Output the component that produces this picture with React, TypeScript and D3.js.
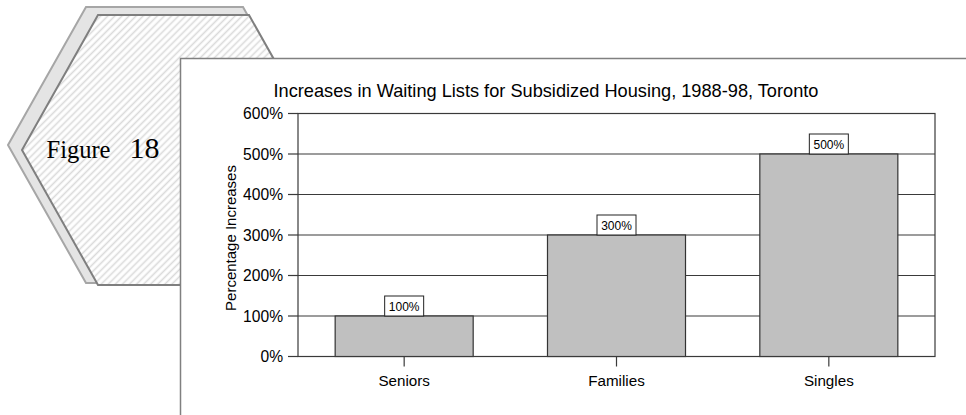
import React from "react";
import * as d3 from "d3";

const categories = ["Seniors", "Families", "Singles"];
const values = [100, 300, 500];
const yTicks = [0, 100, 200, 300, 400, 500, 600];
const title = "Increases in Waiting Lists for Subsidized Housing, 1988-98, Toronto";
const yTitle = "Percentage Increases";
const figureWord = "Figure";
const figureNum = "18";

const backHex: [number, number][] = [[86, 7], [243, 7], [321, 146], [243, 283], [86, 283], [8, 145]];
const frontHex: [number, number][] = [[98, 15], [249, 15], [325, 150], [249, 285], [98, 285], [22, 150]];

export default function App() {
  const W = 966, H = 415;
  const plotL = 298, plotR = 935, plotT = 113.5, plotB = 356.5;
  const x = d3.scaleBand<string>().domain(categories).range([plotL, plotR]).paddingInner(0.35).paddingOuter(0.175);
  const y = d3.scaleLinear().domain([0, 600]).range([plotB, plotT]);
  const line = d3.line();
  const sans = "'Liberation Sans', Arial, sans-serif";
  const serif = "'Liberation Serif', 'Times New Roman', serif";
  const fmt = (v: number) => `${v}%`;

  return (
    <svg width={W} height={H} style={{ position: "absolute", left: 0, top: 0, background: "#fff" }}>
      <defs>
        <pattern id="hatch" patternUnits="userSpaceOnUse" width={5} height={5} patternTransform="rotate(45)">
          <rect width={5} height={5} fill="#fff" />
          <line x1={2.5} y1={0} x2={2.5} y2={5} stroke="#dadada" strokeWidth={1.6} />
        </pattern>
      </defs>
      <path d={line(backHex) + "Z"} fill="#e4e4e4" stroke="#a6a6a6" strokeWidth={2} />
      <path d={line(frontHex) + "Z"} fill="url(#hatch)" stroke="#7f7f7f" strokeWidth={2} />
      <text x={46.5} y={158.3} fontFamily={serif} fontSize={24.5} fill="#000">{figureWord}</text>
      <text x={129.5} y={158.3} fontFamily={serif} fontSize={30} fill="#000">{figureNum}</text>

      <rect x={180.5} y={58.5} width={900} height={500} fill="#fff" stroke="#808080" strokeWidth={1.5} />

      <text x={546} y={97.3} textAnchor="middle" fontFamily={sans} fontSize={18.2} fill="#000">{title}</text>

      {yTicks.map((t) => (
        <g key={t}>
          <line x1={plotL} x2={plotR} y1={y(t)} y2={y(t)} stroke="#3a3a3a" strokeWidth={1.2} />
          <line x1={288} x2={plotL} y1={y(t)} y2={y(t)} stroke="#3a3a3a" strokeWidth={1.2} />
          <text x={283} y={y(t) + 5.5} textAnchor="end" fontFamily={sans} fontSize={15.6} fill="#000">{fmt(t)}</text>
        </g>
      ))}
      <rect x={plotL} y={plotT} width={plotR - plotL} height={plotB - plotT} fill="none" stroke="#3a3a3a" strokeWidth={1.2} />

      {categories.map((c, i) => {
        const bx = x(c)!;
        const bw = x.bandwidth();
        const top = y(values[i]);
        const cx = bx + bw / 2;
        return (
          <g key={c}>
            <rect x={bx} y={top} width={bw} height={plotB - top} fill="#c0c0c0" stroke="#333" strokeWidth={1.2} />
            <rect x={cx - 19.5} y={top - 20} width={39} height={20} fill="#fff" stroke="#222" strokeWidth={1} />
            <text x={cx} y={top - 5.5} textAnchor="middle" fontFamily={sans} fontSize={12} fill="#000">{fmt(values[i])}</text>
            <line x1={cx} x2={cx} y1={plotB} y2={plotB + 10} stroke="#3a3a3a" strokeWidth={1.2} />
            <text x={cx} y={385.7} textAnchor="middle" fontFamily={sans} fontSize={15.2} fill="#000">{c}</text>
          </g>
        );
      })}
      <line x1={plotL} x2={plotR} y1={plotB} y2={plotB} stroke="#3a3a3a" strokeWidth={1.2} />

      <text transform={`translate(235.5, ${(plotT + plotB) / 2 + 3}) rotate(-90)`} textAnchor="middle" fontFamily={sans} fontSize={15} fill="#000">{yTitle}</text>
    </svg>
  );
}
